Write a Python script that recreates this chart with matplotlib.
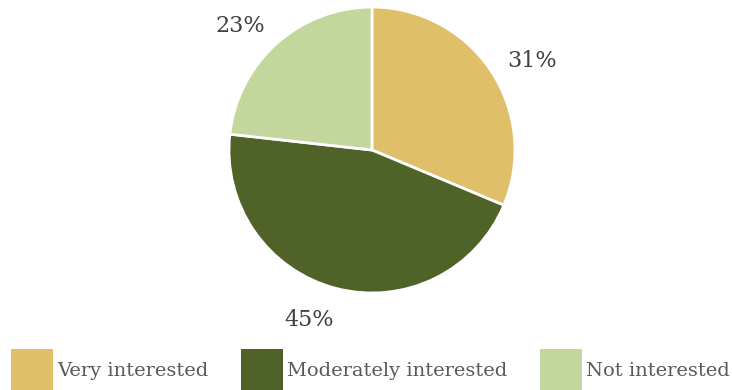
import matplotlib.pyplot as plt
import numpy as np

# Udział odpowiedzi
categories = ['Very interested', 'Moderately interested', 'Not interested']
shares = [31, 45, 23]
colors = ['#E0BF6B', '#4F6228', '#C3D69B']

# Pozycje etykiet procentowych (w jednostkach promienia)
label_pos = [(1.12, 0.62), (-0.44, -1.19), (-0.92, 0.87)]

plt.rcParams['font.family'] = ['DejaVu Serif']

fig = plt.figure(figsize=(7.32, 3.90), dpi=100)
ax = fig.add_axes([0.3128, 0.2487, 0.3907, 0.7333])

wedges, _ = ax.pie(shares, colors=colors, startangle=90, counterclock=False,
                   wedgeprops={'edgecolor': 'white', 'linewidth': 2})
for s, (x, y) in zip(shares, label_pos):
    ax.text(x, y, f'{s}%', ha='center', va='center', fontsize=16, color='#404040')
ax.set_xlim(-1, 1)
ax.set_ylim(-1, 1)
ax.set_aspect('equal')
ax.axis('off')

leg = fig.legend(wedges, categories, loc='lower center', bbox_to_anchor=(0.506, -0.005),
                 ncol=3, frameon=False, fontsize=14, handlelength=2.2, handleheight=3.0,
                 handletextpad=0.2, columnspacing=1.65, borderpad=0, borderaxespad=0,
                 labelcolor='#595959')
for h in leg.legend_handles:
    h.set_edgecolor('none')

fig.savefig('out.png', dpi=100)
